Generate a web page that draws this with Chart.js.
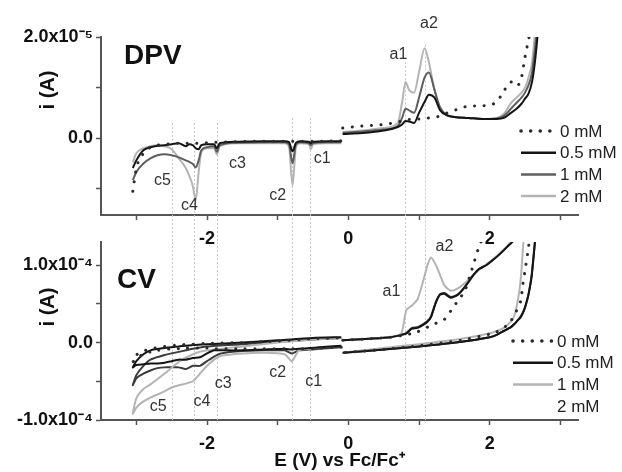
<!DOCTYPE html>
<html>
<head>
<meta charset="utf-8">
<script src="https://cdn.jsdelivr.net/npm/chart.js@4/dist/chart.umd.min.js"></script>
<style>
  html, body { margin: 0; padding: 0; background: #fff; }
  #wrap { position: relative; width: 622px; height: 472px; }
  #wrap canvas { position: absolute; left: 0; top: 0; }
</style>
</head>
<body>
<div id="wrap">
  <canvas id="dpv" width="622" height="472"></canvas>
  <canvas id="cv" width="622" height="472"></canvas>
</div>
<script>
// legend labels
const concLabels = ['0 mM', '0.5 mM', '1 mM', '2 mM'];

// DPV, reduction sweep: E (V vs Fc/Fc+), i in 1e-5 A
const dpvNegE = [-3.05, -3.0, -2.9, -2.8, -2.7, -2.6, -2.5, -2.4, -2.3, -2.25, -2.2, -2.16, -2.12, -2.08, -2.0, -1.9, -1.86, -1.82, -1.6, -1.2, -0.9, -0.84, -0.79, -0.74, -0.68, -0.56, -0.53, -0.5, -0.3, -0.1];
const dpvNeg0  = [-1.05, -0.6, -0.3, -0.18, -0.14, -0.12, -0.11, -0.1, -0.1, -0.1, -0.1, -0.1, -0.1, -0.09, -0.09, -0.08, -0.08, -0.08, -0.07, -0.06, -0.06, -0.06, -0.06, -0.06, -0.06, -0.06, -0.06, -0.06, -0.06, -0.05];
const dpvNeg05 = [-0.59, -0.44, -0.24, -0.18, -0.15, -0.14, -0.12, -0.1, -0.16, -0.12, -0.14, -0.2, -0.22, -0.14, -0.12, -0.12, -0.2, -0.1, -0.07, -0.06, -0.06, -0.08, -0.26, -0.09, -0.06, -0.07, -0.1, -0.07, -0.06, -0.06];
const dpvNeg1  = [-0.83, -0.67, -0.5, -0.4, -0.34, -0.32, -0.34, -0.38, -0.44, -0.47, -0.51, -0.58, -0.45, -0.24, -0.18, -0.16, -0.27, -0.14, -0.09, -0.08, -0.08, -0.12, -0.5, -0.12, -0.08, -0.1, -0.14, -0.1, -0.08, -0.08];
const dpvNeg2  = [-0.48, -0.3, -0.2, -0.16, -0.14, -0.16, -0.22, -0.4, -0.59, -0.75, -0.95, -1.23, -0.7, -0.28, -0.2, -0.2, -0.32, -0.16, -0.1, -0.1, -0.1, -0.16, -0.93, -0.16, -0.1, -0.11, -0.22, -0.12, -0.1, -0.1];

// DPV, oxidation sweep
const dpvPosE = [-0.08, 0.2, 0.5, 0.7, 0.76, 0.81, 0.86, 0.93, 1.0, 1.08, 1.14, 1.22, 1.3, 1.4, 1.5, 1.7, 1.9, 2.1, 2.2, 2.3, 2.38, 2.45, 2.5, 2.55, 2.6, 2.64, 2.68];
const dpvPos0  = [0.2, 0.24, 0.27, 0.32, 0.34, 0.36, 0.37, 0.38, 0.38, 0.39, 0.4, 0.41, 0.44, 0.5, 0.55, 0.63, 0.64, 0.72, 0.93, 1.11, 1.03, 1.2, 1.6, 1.95, 2.3, 2.6, 2.9];
const dpvPos05 = [0.08, 0.1, 0.15, 0.22, 0.27, 0.34, 0.33, 0.3, 0.5, 0.72, 0.86, 0.8, 0.55, 0.45, 0.42, 0.4, 0.38, 0.38, 0.4, 0.5, 0.58, 0.68, 0.78, 0.88, 1.12, 1.5, 2.05];
const dpvPos1  = [0.1, 0.13, 0.17, 0.24, 0.4, 0.58, 0.55, 0.5, 0.8, 1.2, 1.3, 0.95, 0.6, 0.45, 0.42, 0.4, 0.38, 0.39, 0.44, 0.58, 0.7, 0.8, 0.9, 1.05, 1.3, 1.75, 2.3];
const dpvPos2  = [0.12, 0.15, 0.2, 0.3, 0.7, 1.11, 0.95, 0.9, 1.3, 1.78, 1.5, 0.95, 0.6, 0.45, 0.42, 0.4, 0.38, 0.4, 0.48, 0.69, 0.8, 0.9, 1.0, 1.2, 1.5, 2.05, 2.5];

// CV, reduction loop (out to -3.05 V and back), i in 1e-4 A
const cvNegE = [-0.1, -0.4, -0.54, -0.7, -0.8, -0.9, -1.2, -1.5, -1.8, -1.9, -2.0, -2.1, -2.2, -2.3, -2.4, -2.5, -2.6, -2.7, -2.8, -2.9, -3.0, -3.05, -3.0, -2.9, -2.8, -2.6, -2.4, -2.2, -2.0, -1.5, -1.0, -0.5, -0.1];
const cvNeg0  = [-0.06, -0.07, -0.08, -0.08, -0.08, -0.08, -0.08, -0.08, -0.08, -0.08, -0.07, -0.07, -0.07, -0.07, -0.08, -0.08, -0.09, -0.1, -0.12, -0.15, -0.2, -0.25, -0.16, -0.11, -0.08, -0.05, -0.03, -0.02, -0.01, 0.0, 0.02, 0.05, 0.06];
const cvNeg05 = [-0.04, -0.06, -0.07, -0.08, -0.09, -0.08, -0.09, -0.1, -0.1, -0.1, -0.14, -0.19, -0.2, -0.22, -0.22, -0.24, -0.26, -0.27, -0.27, -0.28, -0.29, -0.32, -0.24, -0.15, -0.1, -0.07, -0.05, -0.03, -0.02, 0.0, 0.03, 0.06, 0.07];
const cvNeg1  = [-0.04, -0.06, -0.08, -0.1, -0.24, -0.15, -0.13, -0.14, -0.17, -0.22, -0.3, -0.4, -0.5, -0.53, -0.55, -0.58, -0.63, -0.67, -0.71, -0.76, -0.84, -0.92, -0.72, -0.6, -0.54, -0.4, -0.25, -0.15, -0.1, -0.05, 0.0, 0.04, 0.06];
const cvNeg2  = [-0.06, -0.08, -0.09, -0.1, -0.14, -0.1, -0.1, -0.11, -0.14, -0.18, -0.24, -0.3, -0.3, -0.34, -0.32, -0.32, -0.32, -0.33, -0.36, -0.4, -0.46, -0.55, -0.42, -0.3, -0.22, -0.16, -0.12, -0.08, -0.05, -0.02, 0.01, 0.04, 0.06];

// CV, oxidation loop (out to 2.75 V and back)
const cvPosE = [-0.08, 0.3, 0.6, 0.75, 0.82, 0.9, 0.98, 1.06, 1.12, 1.17, 1.24, 1.3, 1.36, 1.45, 1.55, 1.65, 1.75, 1.85, 1.95, 2.05, 2.15, 2.25, 2.35, 2.75, 2.7, 2.6, 2.55, 2.5, 2.47, 2.44, 2.4, 2.35, 2.3, 2.2, 2.1, 2.0, 1.6, 1.0, 0.5, -0.08];
const cvPos0  = [0.03, 0.05, 0.07, 0.09, 0.1, 0.12, 0.14, 0.17, 0.2, 0.23, 0.25, 0.27, 0.3, 0.41, 0.54, 0.67, 0.95, 1.24, 1.45, 1.7, 1.95, 2.2, 2.5, 3.5, 3.2, 1.7, 1.23, 0.93, 0.75, 0.54, 0.45, 0.36, 0.28, 0.19, 0.14, 0.11, 0.03, -0.04, -0.09, -0.13];
const cvPos05 = [0.03, 0.05, 0.07, 0.1, 0.12, 0.18, 0.19, 0.23, 0.27, 0.33, 0.52, 0.62, 0.63, 0.58, 0.62, 0.72, 0.85, 0.95, 1.0, 1.07, 1.15, 1.24, 1.34, 3.5, 2.0, 0.9, 0.62, 0.45, 0.38, 0.33, 0.29, 0.24, 0.2, 0.15, 0.1, 0.07, 0.01, -0.05, -0.09, -0.13];
const cvPos1  = [0.03, 0.05, 0.07, 0.12, 0.42, 0.48, 0.56, 0.8, 1.0, 1.1, 1.0, 0.87, 0.74, 0.67, 0.7, 0.77, 0.86, 0.94, 1.01, 1.08, 1.16, 1.25, 1.35, 3.5, 3.0, 2.3, 1.9, 1.55, 1.2, 0.82, 0.55, 0.35, 0.27, 0.19, 0.15, 0.12, 0.05, -0.02, -0.07, -0.13];
const cvPos2  = [0.03, 0.05, 0.07, 0.1, 0.12, 0.19, 0.2, 0.24, 0.28, 0.34, 0.53, 0.63, 0.64, 0.59, 0.62, 0.72, 0.85, 0.95, 1.0, 1.07, 1.15, 1.24, 1.34, 3.5, 2.05, 0.92, 0.63, 0.46, 0.39, 0.34, 0.29, 0.24, 0.2, 0.15, 0.1, 0.07, 0.01, -0.05, -0.09, -0.13];

const FONT = '"Liberation Sans", Arial, sans-serif';

function pts(xs, ys) {
    return xs.map((x, i) => ({ x: x, y: ys[i] }));
}

// reduction and oxidation sweeps are separate runs, so leave a gap between them
function sweep(negE, negI, posE, posI) {
    return pts(negE, negI).concat([{ x: -0.09, y: null }], pts(posE, posI));
}

const styles = [
    { borderColor: '#2a2a2a', borderWidth: 3, borderDash: [0.1, 9.5], borderCapStyle: 'round' },
    { borderColor: '#141414', borderWidth: 2 },
    { borderColor: '#5e5e5e', borderWidth: 2 },
    { borderColor: '#b4b4b4', borderWidth: 2 }
];

function dataset(i, data, extra) {
    return Object.assign({ label: concLabels[i], data: data, pointRadius: 0, fill: false }, styles[i], extra || {});
}

const overlay = {
    id: 'overlay',
    beforeDatasetsDraw(chart, args, o) {
        const ctx = chart.ctx, a = chart.chartArea, x = chart.scales.x, y = chart.scales.y;
        ctx.save();
        ctx.strokeStyle = '#c9c9c9';
        ctx.lineWidth = 1;
        ctx.setLineDash([2, 2]);
        o.guides.forEach(g => {
            const px = Math.round(x.getPixelForValue(g.e)) + 0.5;
            const top = g.from == null ? a.top : y.getPixelForValue(g.from);
            const bottom = o.guideTo == null ? a.bottom : o.guideTo;
            ctx.beginPath();
            ctx.moveTo(px, top);
            ctx.lineTo(px, bottom);
            ctx.stroke();
        });
        ctx.restore();
    },
    afterDatasetsDraw(chart, args, o) {
        const ctx = chart.ctx, x = chart.scales.x, y = chart.scales.y;
        ctx.save();
        // peak labels, placed in data coordinates
        ctx.fillStyle = '#333';
        ctx.font = '16px ' + FONT;
        ctx.textAlign = 'center';
        ctx.textBaseline = 'middle';
        o.marks.forEach(m => ctx.fillText(m.t, x.getPixelForValue(m.e), y.getPixelForValue(m.i)));

        // panel name
        ctx.fillStyle = '#111';
        ctx.font = 'bold 28px ' + FONT;
        ctx.textAlign = 'left';
        ctx.fillText(o.name.t, o.name.x, o.name.y);

        // y title
        ctx.font = 'bold 20px ' + FONT;
        ctx.textAlign = 'center';
        ctx.translate(o.yTitle.x, o.yTitle.y);
        ctx.rotate(-Math.PI / 2);
        ctx.fillText(o.yTitle.t, 0, 0);
        ctx.setTransform(1, 0, 0, 1, 0, 0);

        // legend
        const L = o.legend;
        ctx.font = '17px ' + FONT;
        ctx.textAlign = 'left';
        chart.data.datasets.forEach((ds, k) => {
            const yy = L.y + k * L.step;
            if (ds.legendLine !== false) {
                ctx.strokeStyle = ds.borderColor;
                ctx.lineWidth = ds.borderWidth + 0.5;
                ctx.setLineDash(ds.borderDash || []);
                ctx.lineCap = ds.borderCapStyle || 'butt';
                ctx.beginPath();
                ctx.moveTo(L.x, yy);
                ctx.lineTo(L.x + L.len, yy);
                ctx.stroke();
            }
            ctx.fillStyle = '#222';
            ctx.fillText(ds.label, L.x + L.len + L.gap, yy + 1);
        });
        ctx.restore();
    }
};

function xAxis(height, title) {
    return {
        type: 'linear',
        min: -3.5,
        max: 3.25,
        border: { color: '#555', width: 2 },
        grid: { drawOnChartArea: false, drawTicks: true, tickLength: 5, tickColor: '#555', tickWidth: 1.5 },
        ticks: {
            stepSize: 1,
            includeBounds: false,
            autoSkip: false,
            maxRotation: 0,
            padding: 8,
            color: '#111',
            font: { family: FONT, size: 18, weight: 'bold' },
            callback: v => (v % 2 === 0 ? String(v) : '')
        },
        title: {
            display: !!title,
            text: title || '',
            color: '#111',
            font: { family: FONT, size: 19, weight: 'bold' },
            padding: { top: 0, bottom: 0 }
        },
        afterFit: s => { s.height = height; }
    };
}

function yAxis(min, max, step, labels) {
    return {
        type: 'linear',
        min: min,
        max: max,
        border: { color: '#555', width: 2 },
        grid: { drawOnChartArea: false, drawTicks: true, tickLength: 5, tickColor: '#555', tickWidth: 1.5 },
        ticks: {
            stepSize: step,
            includeBounds: false,
            autoSkip: false,
            padding: 3,
            color: '#111',
            font: { family: FONT, size: 18, weight: 'bold' },
            callback: v => (labels[v] !== undefined ? labels[v] : '')
        },
        afterFit: s => { s.width = 101; }
    };
}

const dpvLabels = { 2: '2.0x10\u207B\u2075', 0: '0.0' };
const cvLabels = { 1: '1.0x10\u207B\u2074', 0: '0.0', '-1': '-1.0x10\u207B\u2074' };

new Chart(document.getElementById('dpv'), {
    type: 'line',
    data: {
        datasets: [
            dataset(0, sweep(dpvNegE, dpvNeg0, dpvPosE, dpvPos0)),
            dataset(1, sweep(dpvNegE, dpvNeg05, dpvPosE, dpvPos05)),
            dataset(2, sweep(dpvNegE, dpvNeg1, dpvPosE, dpvPos1)),
            dataset(3, sweep(dpvNegE, dpvNeg2, dpvPosE, dpvPos2))
        ]
    },
    options: {
        responsive: false,
        animation: false,
        devicePixelRatio: 1,
        layout: { padding: { top: 37, left: 0, right: 44, bottom: 227 } },
        elements: { line: { cubicInterpolationMode: 'monotone' } },
        scales: {
            x: xAxis(30, null),
            y: yAxis(-1.52, 2.0, 1, dpvLabels)
        },
        plugins: {
            legend: { display: false },
            tooltip: { enabled: false },
            overlay: {
                guideTo: 242,
                guides: [
                    { e: -2.49, from: 0.3 }, { e: -2.18, from: 0.3 }, { e: -1.86, from: 0.3 },
                    { e: -0.8, from: 0.4 }, { e: -0.54, from: 0.4 },
                    { e: 0.8, from: 1.5 }, { e: 1.08, from: 1.85 }
                ],
                marks: [
                    { t: 'c5', e: -2.63, i: -0.83 }, { t: 'c4', e: -2.25, i: -1.33 },
                    { t: 'c3', e: -1.57, i: -0.51 }, { t: 'c2', e: -1.0, i: -1.13 },
                    { t: 'c1', e: -0.37, i: -0.4 }, { t: 'a1', e: 0.71, i: 1.66 },
                    { t: 'a2', e: 1.14, i: 2.26 }
                ],
                name: { t: 'DPV', x: 124, y: 56 },
                yTitle: { t: 'i (A)', x: 48, y: 90 },
                legend: { x: 521, y: 131, step: 21.7, len: 35, gap: 4 }
            }
        }
    },
    plugins: [overlay]
});

new Chart(document.getElementById('cv'), {
    type: 'line',
    data: {
        datasets: [
            dataset(0, sweep(cvNegE, cvNeg0, cvPosE, cvPos0)),
            dataset(1, sweep(cvNegE, cvNeg05, cvPosE, cvPos05)),
            dataset(3, sweep(cvNegE, cvNeg1, cvPosE, cvPos1), { label: concLabels[2] }),
            dataset(2, sweep(cvNegE, cvNeg2, cvPosE, cvPos2), { label: concLabels[3], legendLine: false, borderColor: '#3c3c3c' })
        ]
    },
    options: {
        responsive: false,
        animation: false,
        devicePixelRatio: 1,
        layout: { padding: { top: 242, left: 0, right: 44, bottom: 0 } },
        elements: { line: { tension: 0.2 } },
        scales: {
            x: xAxis(52, 'E (V) vs Fc/Fc\u207A'),
            y: yAxis(-1.0, 1.3, 0.5, cvLabels)
        },
        plugins: {
            legend: { display: false },
            tooltip: { enabled: false },
            overlay: {
                guides: [
                    { e: -2.49 }, { e: -2.18 }, { e: -1.86 }, { e: -0.8 }, { e: -0.54 }, { e: 0.8 }, { e: 1.08 }
                ],
                marks: [
                    { t: 'c5', e: -2.69, i: -0.83 }, { t: 'c4', e: -2.07, i: -0.76 },
                    { t: 'c3', e: -1.77, i: -0.53 }, { t: 'c2', e: -1.0, i: -0.39 },
                    { t: 'c1', e: -0.49, i: -0.5 }, { t: 'a1', e: 0.61, i: 0.66 },
                    { t: 'a2', e: 1.36, i: 1.24 }
                ],
                name: { t: 'CV', x: 117, y: 280 },
                yTitle: { t: 'i (A)', x: 48, y: 307 },
                legend: { x: 513, y: 341, step: 21.7, len: 40, gap: 4 }
            }
        }
    },
    plugins: [overlay]
});
</script>
</body>
</html>
